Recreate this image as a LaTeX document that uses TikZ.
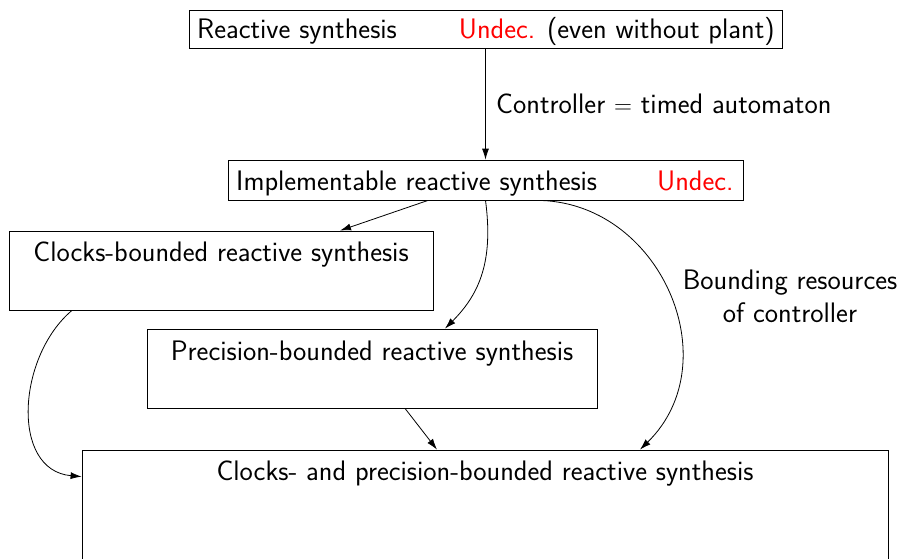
\documentclass[tikz,border=0pt]{standalone}
\usetikzlibrary{arrows.meta}
\begin{document}
\begin{tikzpicture}[x=1pt,y=-1pt,
  every node/.style={font=\fontsize{28.2}{33}\selectfont\sffamily},
  box/.style={draw,line width=0.8pt,inner sep=0pt,rectangle},
  arr/.style={line width=0.8pt,-{Latex[length=11pt,width=7pt]}},
  lbl/.style={inner sep=0pt}]
\useasboundingbox (0,0) rectangle (900,558);
\clip (0,0) rectangle (900,558);
% boxes
\node[box,minimum width=593pt,minimum height=38pt] (top) at (485.5,29) {};
\node[lbl,anchor=base west] (toptext) at (197,38) {Reactive synthesis\hspace{62pt}\textcolor{red}{Undec.} (even without plant)};
\node[box,minimum width=515pt,minimum height=40pt] (impl) at (485.5,180) {};
\node[lbl,anchor=base west] (impltext) at (236,190) {Implementable reactive synthesis\hspace{60pt}\textcolor{red}{Undec.}};
\node[box,minimum width=424pt,minimum height=79pt] (clocks) at (221,270.5) {};
\node[lbl,anchor=base] (clockstext) at ([yshift=-31]clocks.north) {Clocks-bounded reactive synthesis};
\node[box,minimum width=450pt,minimum height=79pt] (prec) at (372,368.5) {};
\node[lbl,anchor=base] (prectext) at ([yshift=-32]prec.north) {Precision-bounded reactive synthesis};
\node[box,minimum width=806pt,minimum height=140pt] (both) at (485,520) {};
\node[lbl,anchor=base] (bothtext) at ([yshift=-31]both.north) {Clocks- and precision-bounded reactive synthesis};
% labels
\node[lbl,anchor=base west] (ctrl) at (496,113) {Controller $=$ timed automaton};
\node[lbl,align=center] (bound) at (790,296) {Bounding resources\\of controller};
% arrows
\draw[arr] (top.south) -- (impl.north);
\draw[arr] ([xshift=-57.5]impl.south) -- ([xshift=119]clocks.north);
\draw[arr] (impl.south) .. controls +(8,60) and +(35,-35) .. ([xshift=73]prec.north);
\draw[arr] ([xshift=51]impl.south) .. controls +(123,0) and +(90,-88) .. ([xshift=155]both.north);
\draw[arr] ([xshift=-149]clocks.south) to[out=-140,in=175,looseness=1.1] ([yshift=-27]both.north west);
\draw[arr] ([xshift=33]prec.south) -- ([xshift=-48]both.north);
\end{tikzpicture}
\end{document}
